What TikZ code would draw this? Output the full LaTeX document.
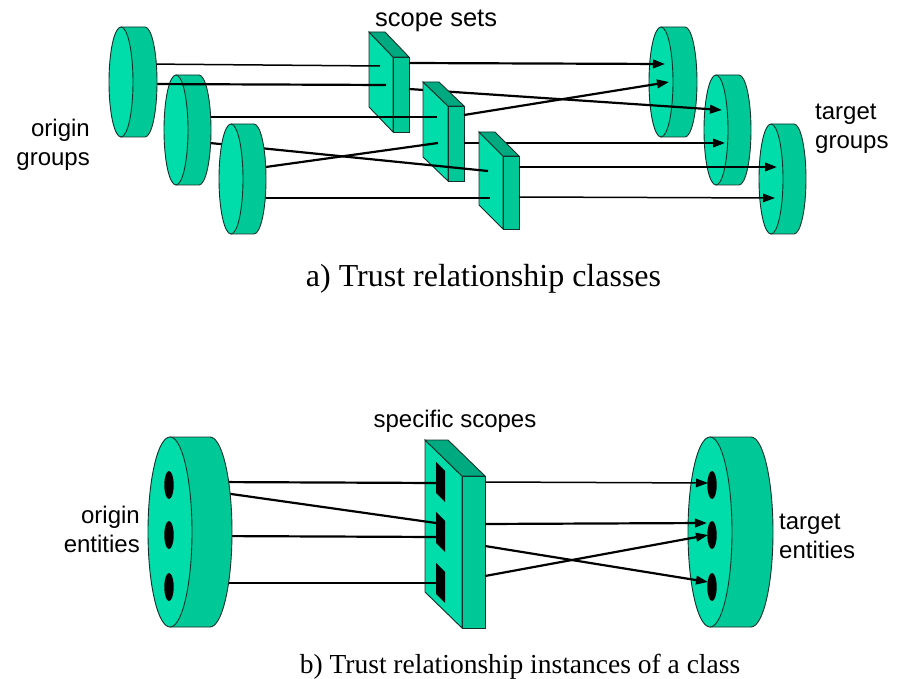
\documentclass[tikz,border=0pt]{standalone}
\usepackage{fontspec}
\setmainfont{Liberation Serif}
\setsansfont{Liberation Sans}
\usetikzlibrary{arrows.meta}

\definecolor{facelight}{HTML}{00DDAA}
\definecolor{facedark}{HTML}{00C896}
\definecolor{facetop}{HTML}{00AA80}
\definecolor{rim}{HTML}{14302A}

% horizontal disk: front centre (#1,#2), radii #3/#4, depth #5
\newcommand\drawdisk[5]{%
  \filldraw[fill=facedark,draw=rim,line width=0.9pt]
    (#1,#2-#4) -- (#1+#5,#2-#4)
    arc[start angle=90,end angle=-90,x radius=#3pt,y radius=#4pt]
    -- (#1,#2+#4) -- cycle;
  \filldraw[fill=facelight,draw=rim,line width=0.9pt]
    (#1,#2) ellipse[x radius=#3pt,y radius=#4pt];
}

% slanted slab: corner (#1,#2), skew (#3,#4), height #5, thickness #6
\newcommand\drawslab[6]{%
  \filldraw[fill=facelight,draw=rim,line width=0.9pt]
    (#1,#2) -- (#1+#3,#2+#4) -- (#1+#3,#2+#4+#5) -- (#1,#2+#5) -- cycle;
  \filldraw[fill=facetop,draw=rim,line width=0.9pt]
    (#1,#2) -- (#1+#6,#2) -- (#1+#3+#6,#2+#4) -- (#1+#3,#2+#4) -- cycle;
  \filldraw[fill=facedark,draw=rim,line width=0.9pt]
    (#1+#3,#2+#4) -- (#1+#3+#6,#2+#4) -- (#1+#3+#6,#2+#4+#5) -- (#1+#3,#2+#4+#5) -- cycle;
}

\tikzset{
  link/.style={line width=2.2pt},
  thinlink/.style={line width=1.5pt},
  arr/.style={-{Triangle[length=12pt,width=8.5pt]}},
  label/.style={font=\sffamily\fontsize{24}{29}\selectfont,inner sep=0pt},
  caption/.style={inner sep=0pt},
}

\begin{document}
\begin{tikzpicture}[x=1pt,y=-1pt]
\useasboundingbox (0,0) rectangle (898,679);

% ---------------- a) trust relationship classes ----------------
% connector end points
\coordinate (d1a) at (145,64);   \coordinate (s1a) at (380,66);
\coordinate (d1b) at (145,84);   \coordinate (s1b) at (386,85);
\coordinate (d2a) at (200,117);  \coordinate (s2a) at (437,117);
\coordinate (d2b) at (200,142);  \coordinate (s3a) at (488,171);
\coordinate (d3a) at (255,168.5);\coordinate (s2b) at (438,143);
\coordinate (d3b) at (255,198);  \coordinate (s3b) at (490,198);
\coordinate (s1o1) at (409,63);  \coordinate (t1a) at (665,64);
\coordinate (s1o2) at (409,89);  \coordinate (t2a) at (722,110);
\coordinate (s2o1) at (464,115); \coordinate (t1b) at (669,82);
\coordinate (s2o2) at (464,143); \coordinate (t2b) at (725,143);
\coordinate (s3o1) at (519,167); \coordinate (t3a) at (777,167);
\coordinate (s3o2) at (519,197); \coordinate (t3b) at (775,198);

% target groups
\drawdisk{661}{82}{12}{55}{24}
\drawdisk{716}{130}{12}{55}{23}
\drawdisk{771}{179}{12}{55}{23}

% scope set 1 and its outputs
\drawslab{369}{32}{24}{25}{75}{16}
\draw[link,arr] (s1o1) -- (t1a);
\draw[link,arr] (s1o2) -- (t2a);
% scope set 2 and its outputs
\drawslab{423}{82}{25}{24}{75}{16}
\draw[link,arr] (s2o1) -- (t1b);
\draw[link,arr] (s2o2) -- (t2b);
% scope set 3 and its outputs
\drawslab{479}{132}{24}{24}{73}{16}
\draw[link,arr] (s3o1) -- (t3a);
\draw[thinlink,arr] (s3o2) -- (t3b);

% inputs from origin groups 2 and 3
\draw[link] (d2a) -- (s2a);
\draw[link] (d2b) -- (s3a);
\draw[link] (d3a) -- (s2b);
\draw[link] (d3b) -- (s3b);
\drawdisk{231}{179}{12}{55}{23}
\drawdisk{176}{130}{12}{55}{23}
% inputs from origin group 1
\draw[thinlink] (d1a) -- (s1a);
\draw[link] (d1b) -- (s1b);
\drawdisk{121}{82}{12}{55}{24}

\node[label,font=\sffamily\fontsize{25.5}{30}\selectfont,anchor=base west] (scopesets) at (375,27) {scope sets};
\node[label,anchor=base east] (origingroups) at (90,137)
  {\begin{tabular}[t]{@{}r@{}}origin\\groups\end{tabular}};
\node[label,anchor=base west] (targetgroups) at (815,120)
  {\begin{tabular}[t]{@{}l@{}}target\\groups\end{tabular}};
\node[caption,anchor=base,font=\rmfamily\fontsize{32}{38}\selectfont] (capa) at (483.5,287)
  {a) Trust relationship classes};

% ---------------- b) instances of a class ----------------
\coordinate (lo1) at (210,482); \coordinate (sl1) at (436,483);
\coordinate (lo2) at (210,491); \coordinate (sl2) at (436,523);
\coordinate (lo3) at (210,536); \coordinate (sl3) at (436,537);
\coordinate (lo4) at (210,583); \coordinate (sl4) at (436,583);
\coordinate (so1) at (485,482); \coordinate (r1) at (708,483);
\coordinate (so2) at (485,524); \coordinate (r2) at (707,523);
\coordinate (so3) at (485,546); \coordinate (r3) at (708,582);
\coordinate (so4) at (485,576); \coordinate (r4) at (708,535);

% target entities
\drawdisk{710}{532}{22}{95}{41}
\foreach \yy in {485,535,587} \fill (712,\yy) ellipse[x radius=4.7pt,y radius=14pt];

% specific scopes
\drawslab{425}{440}{37}{36}{152}{23}
\foreach \yy in {462,512,563}
  \fill (436,\yy) -- (445,\yy+9) -- (445,\yy+40) -- (436,\yy+31) -- cycle;

\draw[link] (lo1) -- (sl1);
\draw[link] (lo2) -- (sl2);
\draw[link] (lo3) -- (sl3);
\draw[thinlink] (lo4) -- (sl4);

% origin entities
\drawdisk{170}{532}{22}{95}{40}
\foreach \yy in {485,535,587} \fill (169,\yy) ellipse[x radius=4.7pt,y radius=14pt];

\draw[thinlink,arr] (so1) -- (r1);
\draw[link,arr] (so2) -- (r2);
\draw[link,arr] (so3) -- (r3);
\draw[link,arr] (so4) -- (r4);

\node[label,anchor=base] (specific) at (455,428) {specific scopes};
\node[label,anchor=base east] (originent) at (140,523)
  {\begin{tabular}[t]{@{}r@{}}origin\\entities\end{tabular}};
\node[label,anchor=base west] (targetent) at (779,529)
  {\begin{tabular}[t]{@{}l@{}}target\\entities\end{tabular}};
\node[caption,anchor=base,font=\rmfamily\fontsize{27.5}{33}\selectfont] (capb) at (520,673)
  {b) Trust relationship instances of a class};
\end{tikzpicture}
\end{document}
